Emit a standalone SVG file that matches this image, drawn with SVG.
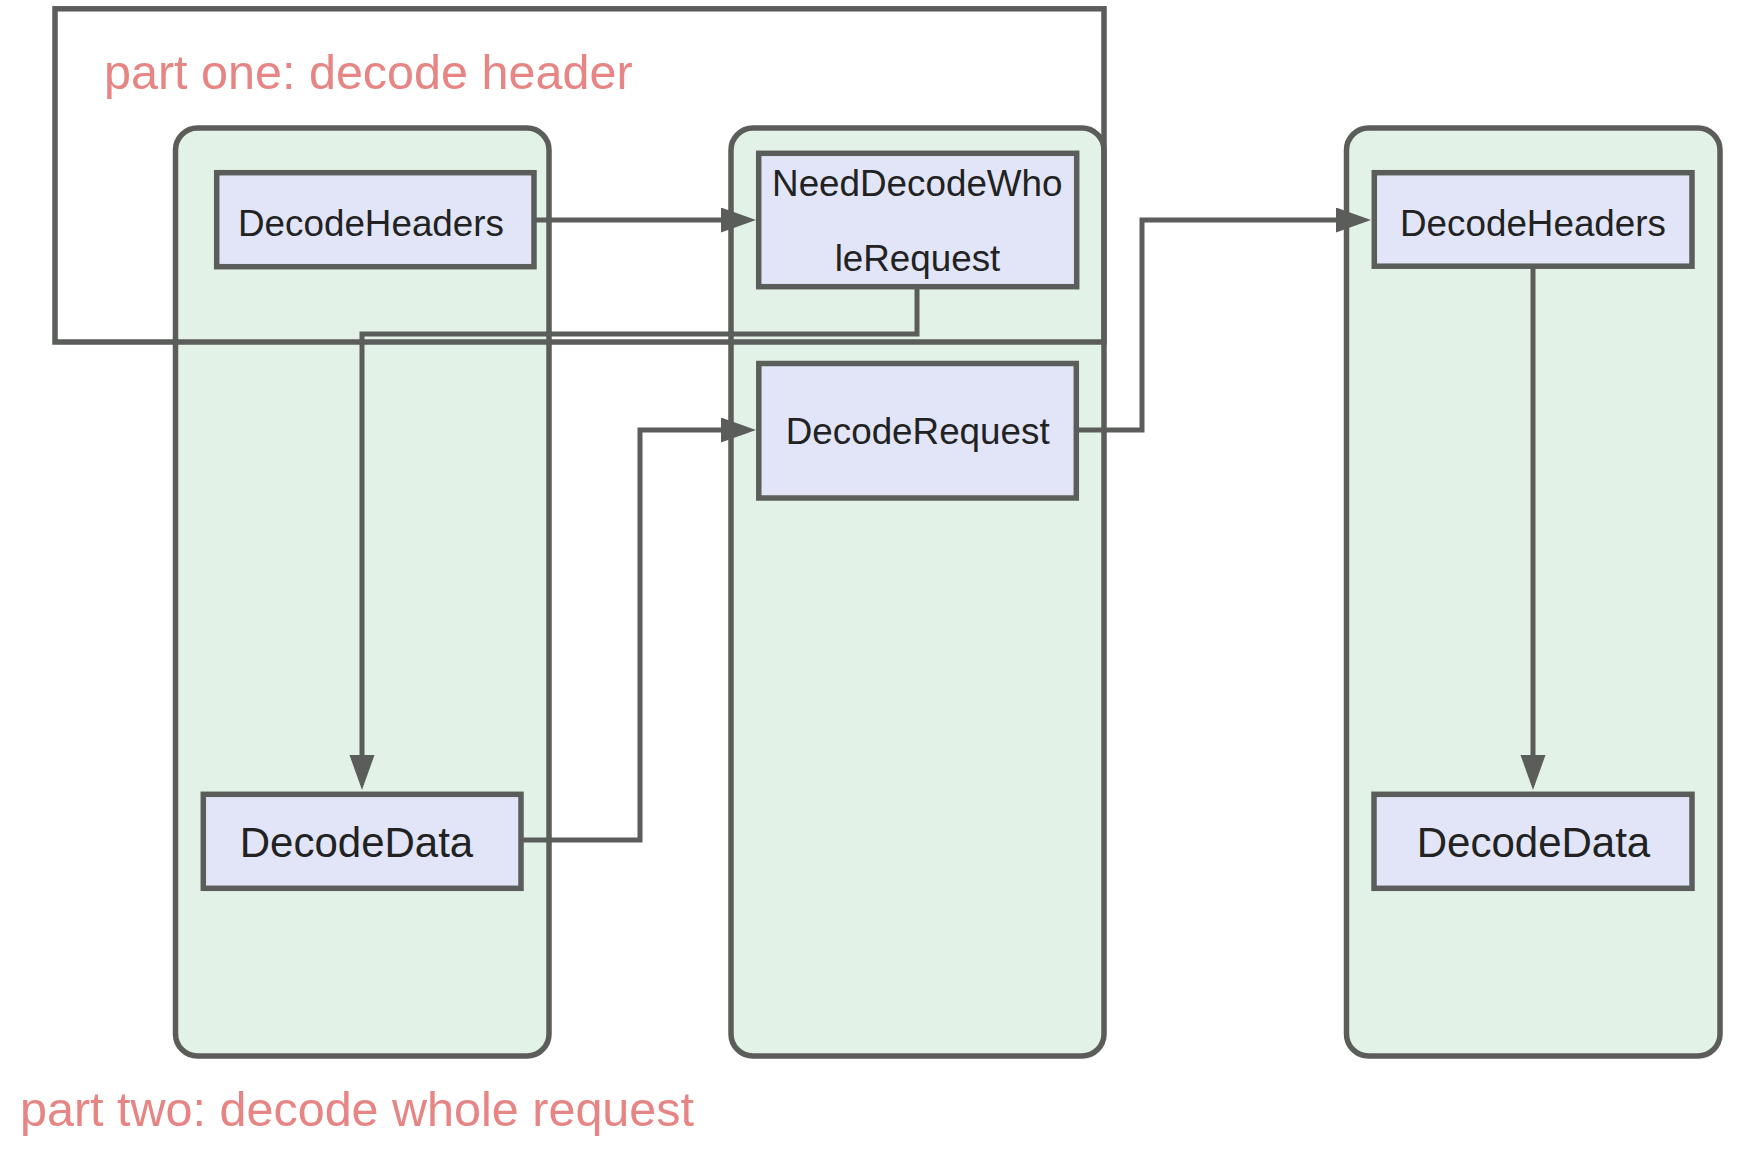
<svg xmlns="http://www.w3.org/2000/svg" width="1738" height="1167" viewBox="0 0 1738 1167">
  <defs>
    <style>
      .cluster { fill: #E2F2E7; stroke: #5B5D5B; stroke-width: 5.5; }
      .frame { fill: none; stroke: #5B5D5B; stroke-width: 5.5; }
      .node rect { fill: #E1E5F7; stroke: #5B5D5B; stroke-width: 5.5; }
      .node text { font-family: "Liberation Sans", Arial, sans-serif; fill: #222222; text-anchor: middle; font-size: 36.8px; }
      .node text.big { font-size: 42px; }
      .edge { fill: none; stroke: #5B5D5B; stroke-width: 5; stroke-linejoin: miter; marker-end: url(#arrow); }
      .title { font-family: "Liberation Sans", Arial, sans-serif; fill: #E78484; font-size: 48.5px; }
    </style>
    <marker id="arrow" markerUnits="userSpaceOnUse" markerWidth="36" markerHeight="26" refX="5" refY="12.5" orient="auto">
      <path d="M0,0 L35,12.5 L0,25 z" fill="#5B5D5B"/>
    </marker>
  </defs>

  <g id="clusters">
    <rect id="cluster-left" class="cluster" x="175.5" y="128" width="373.5" height="928" rx="22" ry="22"/>
    <rect id="cluster-middle" class="cluster" x="731" y="128" width="373" height="928" rx="22" ry="22"/>
    <rect id="cluster-right" class="cluster" x="1346.5" y="128" width="373.5" height="928" rx="22" ry="22"/>
  </g>

  <g id="part-one-frame">
    <rect class="frame" x="55" y="8.8" width="1049" height="333.2"/>
  </g>

  <g id="connectors">
    <path id="e1" class="edge" d="M534,220 L726,220"/>
    <path id="e2" class="edge" d="M917,287 L917,334 L362,334 L362,760"/>
    <path id="e3" class="edge" d="M521,840 L640,840 L640,430 L726,430"/>
    <path id="e4" class="edge" d="M1076,430 L1142,430 L1142,220 L1341,220"/>
    <path id="e5" class="edge" d="M1533,266 L1533,760"/>
  </g>

  <g id="node-decodeheaders-1" class="node">
    <rect x="216.7" y="172.7" width="317.3" height="94"/>
    <text x="371" y="235.7">DecodeHeaders</text>
  </g>
  <g id="node-needdecodewholerequest" class="node">
    <rect x="758.7" y="153.3" width="318" height="133.4"/>
    <text x="917.3" y="195.7">NeedDecodeWho</text>
    <text x="917.5" y="270.5">leRequest</text>
  </g>
  <g id="node-decoderequest" class="node">
    <rect x="758.8" y="363.5" width="317.5" height="134.5"/>
    <text x="917.7" y="444.3">DecodeRequest</text>
  </g>
  <g id="node-decodeheaders-2" class="node">
    <rect x="1374.3" y="172.7" width="317.7" height="93.5"/>
    <text x="1533" y="235.5">DecodeHeaders</text>
  </g>
  <g id="node-decodedata-1" class="node">
    <rect x="203.3" y="794.3" width="317.7" height="94"/>
    <text class="big" x="356.5" y="856.7">DecodeData</text>
  </g>
  <g id="node-decodedata-2" class="node">
    <rect x="1374" y="794.3" width="318" height="94"/>
    <text class="big" x="1533.5" y="856.5">DecodeData</text>
  </g>

  <g id="titles">
    <text class="title" x="104" y="88.5">part one: decode header</text>
    <text class="title" x="20" y="1125.5">part two: decode whole request</text>
  </g>
</svg>
